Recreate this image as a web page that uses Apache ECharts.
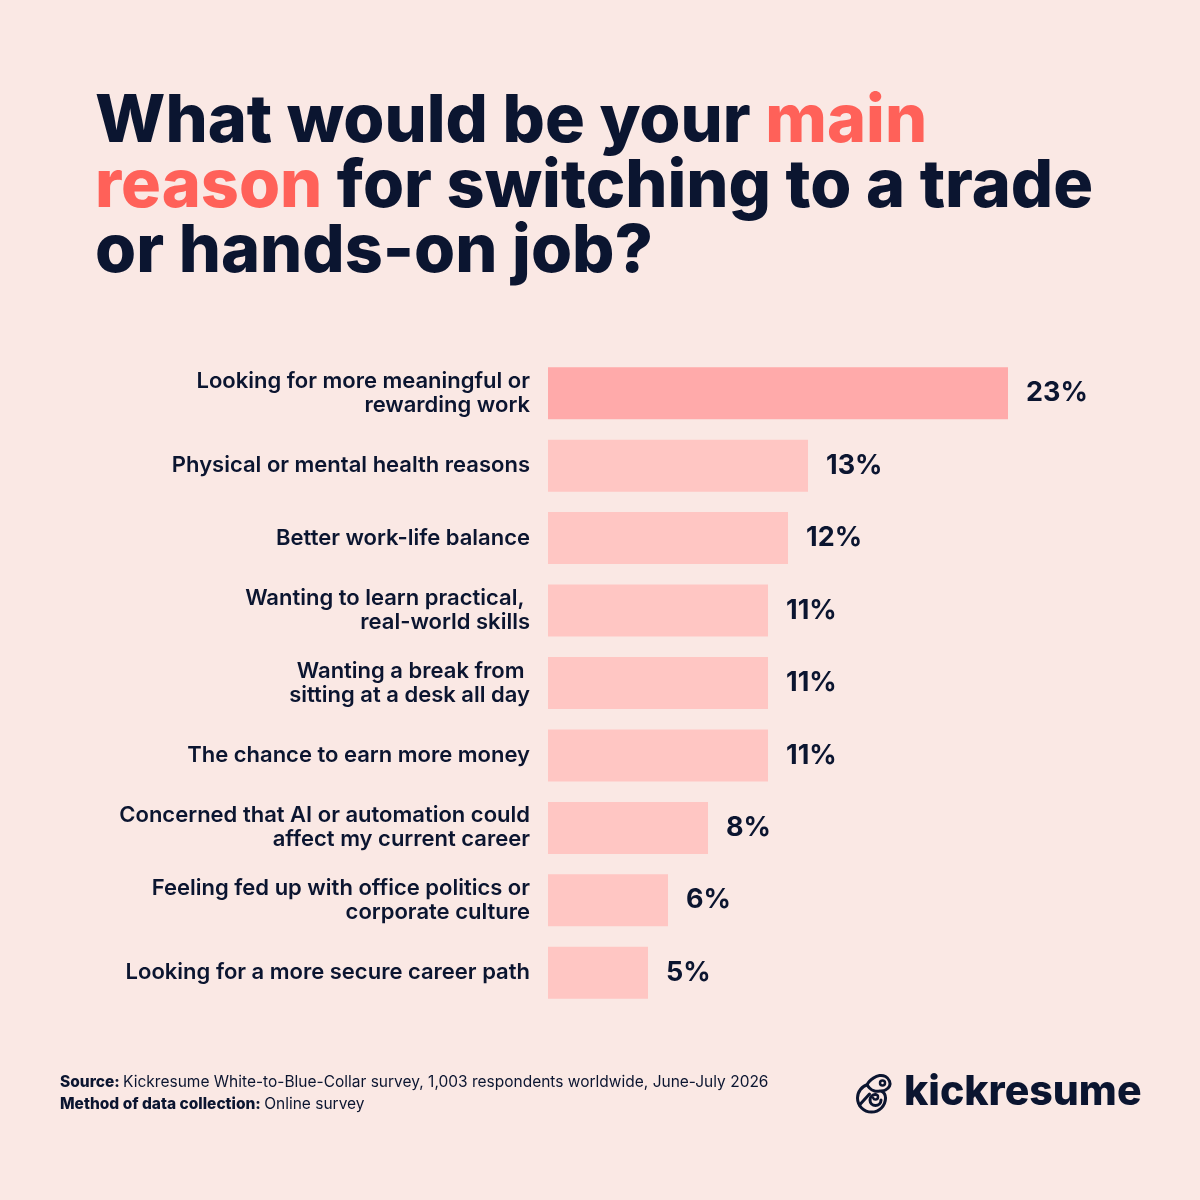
<!DOCTYPE html>
<html><head><meta charset="utf-8">
<script src="https://cdn.jsdelivr.net/npm/echarts@6/dist/echarts.min.js"></script>
<style>html,body{margin:0;padding:0;background:#FAE8E4;}#c{width:1200px;height:1200px;}</style>
</head><body><div id="c"></div>
<script>
const categories = [
  "Looking for more meaningful or\nrewarding work",
  "Physical or mental health reasons",
  "Better work-life balance",
  "Wanting to learn practical, \nreal-world skills",
  "Wanting a break from \nsitting at a desk all day",
  "The chance to earn more money",
  "Concerned that AI or automation could\naffect my current career",
  "Feeling fed up with office politics or\ncorporate culture",
  "Looking for a more secure career path"
];
const values = [23, 13, 12, 11, 11, 11, 8, 6, 5];

const DARK = '#0B1530';
const BG = '#FAE8E4';
const chart = echarts.init(document.getElementById('c'), null, {renderer: 'canvas'});
chart.setOption({
  backgroundColor: BG,
  animation: false,
  title: {
    left: 90, top: 84,
    text: '{a|What would be your }{b|main}\n{b|reason}{a| for switching to a trade}\n{a|or hands-on job?}',
    textStyle: {
      rich: {
        a: {fontFamily: 'Inter', fontWeight: 800, fontSize: 66.5, color: DARK, lineHeight: 65},
        b: {fontFamily: 'Inter', fontWeight: 800, fontSize: 66.5, color: '#FF6159', lineHeight: 65}
      }
    }
  },
  grid: {left: 548, right: 52, top: 357, bottom: 191, containLabel: false},
  xAxis: {type: 'value', min: 0, max: 30, show: false},
  yAxis: {
    type: 'category', inverse: true, data: categories,
    axisLine: {show: false}, axisTick: {show: false}, splitLine: {show: false},
    axisLabel: {
      margin: 18, align: 'right',
      fontFamily: 'Inter', fontWeight: 600, fontSize: 22, color: DARK, lineHeight: 24
    }
  },
  series: [{
    type: 'bar', data: values, barWidth: 52,
    itemStyle: {color: p => p.dataIndex === 0 ? '#FFAAAA' : '#FFC6C3'},
    label: {
      show: true, position: 'right', distance: 18,
      formatter: p => p.value + '%',
      fontFamily: 'Inter', fontWeight: 700, fontSize: 27, color: DARK
    }
  }],
  graphic: [
    {type: 'text', left: 60, top: 1074, style: {
      text: '{b|Source:} {r|Kickresume White-to-Blue-Collar survey, 1,003 respondents worldwide, June-July 2026}\n{b|Method of data collection:} {r|Online survey}',
      rich: {
        b: {fontFamily: 'Inter', fontWeight: 800, fontSize: 15.5, fill: DARK, lineHeight: 22},
        r: {fontFamily: 'Inter', fontWeight: 400, fontSize: 15.5, fill: DARK, lineHeight: 22}
      }
    }},
    {type: 'text', left: 904, top: 1072, style: {
      text: 'kickresume', fontFamily: 'Inter', fontWeight: 800, fontSize: 41, fill: DARK
    }},
    {type: 'group', left: 855, top: 1074, children: [
      {type: 'arc', shape: {cx: 17, cy: 24, r: 14, startAngle: 0, endAngle: Math.PI * 1.42, clockwise: true},
        style: {fill: 'none', stroke: DARK, lineWidth: 3, lineCap: 'round'}},
      {type: 'bezierCurve', shape: {x1: 31, y1: 24, cpx1: 31, cpy1: 19, x2: 27, y2: 17},
        style: {fill: 'none', stroke: DARK, lineWidth: 3, lineCap: 'round'}},
      {type: 'polygon', shape: {points: [[13,10],[19,4],[25,1.5],[31,2.5],[35,7],[35,12],[31,16],[26,17],[20,17],[15,14]], smooth: 0.3},
        style: {fill: BG, stroke: DARK, lineWidth: 3, lineJoin: 'round'}},
      {type: 'circle', shape: {cx: 28, cy: 9, r: 2.5}, style: {fill: 'none', stroke: DARK, lineWidth: 2.5}},
      {type: 'arc', shape: {cx: 21, cy: 26, r: 5.5, startAngle: 0, endAngle: Math.PI * 1.5, clockwise: true},
        style: {fill: 'none', stroke: DARK, lineWidth: 3, lineCap: 'round'}},
      {type: 'arc', shape: {cx: 21, cy: 23, r: 2.5, startAngle: -Math.PI * 0.5, endAngle: Math.PI * 0.9, clockwise: true},
        style: {fill: 'none', stroke: DARK, lineWidth: 2.5, lineCap: 'round'}},
      {type: 'line', shape: {x1: 5, y1: 31, x2: 15, y2: 20}, style: {stroke: DARK, lineWidth: 3, lineCap: 'round'}}
    ]}
  ]
});
</script></body></html>
